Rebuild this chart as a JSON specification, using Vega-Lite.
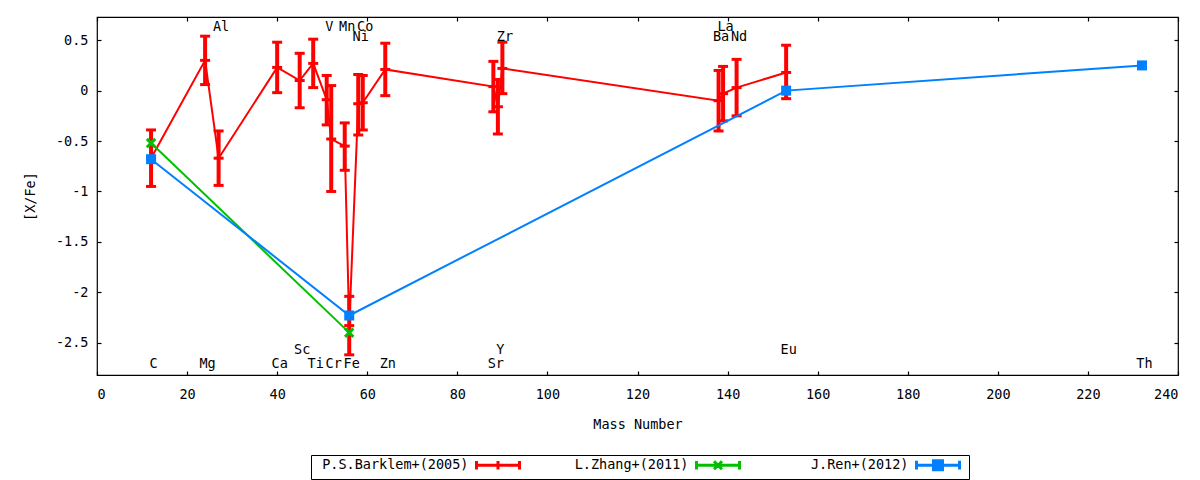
{
  "$schema": "https://vega.github.io/schema/vega-lite/v6.json",
  "width": 1081,
  "height": 358,
  "autosize": "none",
  "padding": {"left": 97, "top": 17, "right": 22, "bottom": 105},
  "config": {
    "font": "DejaVu Sans Mono",
    "view": {"stroke": "black", "strokeWidth": 1.2},
    "axis": {
      "labelFont": "DejaVu Sans Mono", "labelFontSize": 13.5, "labelColor": "black",
      "titleFont": "DejaVu Sans Mono", "titleFontSize": 13.5, "titleFontWeight": "normal", "titleColor": "black",
      "tickColor": "black", "tickWidth": 1.2, "grid": false, "domain": false
    }
  },
  "datasets": {
    "pts": [
      {"series": "P.S.Barklem+(2005)", "el": "C", "mass": 12, "value": -0.67, "lo": -0.95, "hi": -0.39},
      {"series": "P.S.Barklem+(2005)", "el": "Mg", "mass": 24, "value": 0.30, "lo": 0.06, "hi": 0.54},
      {"series": "P.S.Barklem+(2005)", "el": "Al", "mass": 27, "value": -0.67, "lo": -0.94, "hi": -0.40},
      {"series": "P.S.Barklem+(2005)", "el": "Ca", "mass": 40, "value": 0.23, "lo": -0.02, "hi": 0.48},
      {"series": "P.S.Barklem+(2005)", "el": "Sc", "mass": 45, "value": 0.10, "lo": -0.17, "hi": 0.37},
      {"series": "P.S.Barklem+(2005)", "el": "Ti", "mass": 48, "value": 0.27, "lo": 0.03, "hi": 0.51},
      {"series": "P.S.Barklem+(2005)", "el": "V", "mass": 51, "value": -0.09, "lo": -0.34, "hi": 0.15},
      {"series": "P.S.Barklem+(2005)", "el": "Cr", "mass": 52, "value": -0.48, "lo": -1.00, "hi": 0.05},
      {"series": "P.S.Barklem+(2005)", "el": "Mn", "mass": 55, "value": -0.55, "lo": -0.79, "hi": -0.32},
      {"series": "P.S.Barklem+(2005)", "el": "Fe", "mass": 56, "value": -2.33, "lo": -2.62, "hi": -2.04},
      {"series": "P.S.Barklem+(2005)", "el": "Ni", "mass": 58, "value": -0.13, "lo": -0.44, "hi": 0.16},
      {"series": "P.S.Barklem+(2005)", "el": "Co", "mass": 59, "value": -0.12, "lo": -0.39, "hi": 0.15},
      {"series": "P.S.Barklem+(2005)", "el": "Zn", "mass": 64, "value": 0.21, "lo": -0.05, "hi": 0.47},
      {"series": "P.S.Barklem+(2005)", "el": "Sr", "mass": 88, "value": 0.04, "lo": -0.21, "hi": 0.29},
      {"series": "P.S.Barklem+(2005)", "el": "Y", "mass": 89, "value": -0.16, "lo": -0.43, "hi": 0.11},
      {"series": "P.S.Barklem+(2005)", "el": "Zr", "mass": 90, "value": 0.22, "lo": -0.03, "hi": 0.48},
      {"series": "P.S.Barklem+(2005)", "el": "Ba", "mass": 138, "value": -0.10, "lo": -0.40, "hi": 0.20},
      {"series": "P.S.Barklem+(2005)", "el": "La", "mass": 139, "value": -0.03, "lo": -0.30, "hi": 0.24},
      {"series": "P.S.Barklem+(2005)", "el": "Nd", "mass": 142, "value": 0.03, "lo": -0.25, "hi": 0.31},
      {"series": "P.S.Barklem+(2005)", "el": "Eu", "mass": 153, "value": 0.18, "lo": -0.08, "hi": 0.45},
      {"series": "L.Zhang+(2011)", "el": "C", "mass": 12, "value": -0.52},
      {"series": "L.Zhang+(2011)", "el": "Fe", "mass": 56, "value": -2.40},
      {"series": "J.Ren+(2012)", "el": "C", "mass": 12, "value": -0.68},
      {"series": "J.Ren+(2012)", "el": "Fe", "mass": 56, "value": -2.23},
      {"series": "J.Ren+(2012)", "el": "Eu", "mass": 153, "value": 0.00},
      {"series": "J.Ren+(2012)", "el": "Th", "mass": 232, "value": 0.25}
    ],
    "labels": [
      {"el": "C", "mass": 12, "ypos": -2.71},
      {"el": "Mg", "mass": 24, "ypos": -2.71},
      {"el": "Al", "mass": 27, "ypos": 0.63},
      {"el": "Ca", "mass": 40, "ypos": -2.71},
      {"el": "Sc", "mass": 45, "ypos": -2.57},
      {"el": "Ti", "mass": 48, "ypos": -2.71},
      {"el": "V", "mass": 51, "ypos": 0.63},
      {"el": "Cr", "mass": 52, "ypos": -2.71},
      {"el": "Mn", "mass": 55, "ypos": 0.63},
      {"el": "Fe", "mass": 56, "ypos": -2.71},
      {"el": "Ni", "mass": 58, "ypos": 0.53},
      {"el": "Co", "mass": 59, "ypos": 0.63},
      {"el": "Zn", "mass": 64, "ypos": -2.71},
      {"el": "Sr", "mass": 88, "ypos": -2.71},
      {"el": "Y", "mass": 89, "ypos": -2.57},
      {"el": "Zr", "mass": 90, "ypos": 0.53},
      {"el": "Ba", "mass": 138, "ypos": 0.53},
      {"el": "La", "mass": 139, "ypos": 0.63},
      {"el": "Nd", "mass": 142, "ypos": 0.53},
      {"el": "Eu", "mass": 153, "ypos": -2.57},
      {"el": "Th", "mass": 232, "ypos": -2.71}
    ]
  },
  "resolve": {"axis": {"x": "independent", "y": "independent"}},
  "layer": [
    {
      "data": {"name": "pts"},
      "transform": [{"filter": "datum.series === 'P.S.Barklem+(2005)'"}],
      "mark": {"type": "line", "strokeWidth": 2},
      "encoding": {
        "x": {"field": "mass", "type": "quantitative", "scale": {"domain": [0, 240], "nice": false},
          "axis": {"orient": "bottom", "title": "Mass Number", "values": [0, 20, 40, 60, 80, 100, 120, 140, 160, 180, 200, 220, 240], "tickSize": -4, "labelPadding": 16, "titlePadding": 17}},
        "y": {"field": "value", "type": "quantitative", "scale": {"domain": [-2.82, 0.73], "nice": false},
          "axis": {"orient": "left", "title": "[X/Fe]", "values": [-2.5, -2, -1.5, -1, -0.5, 0, 0.5], "labelExpr": "'' + datum.value", "tickSize": -4, "labelPadding": 13, "titlePadding": 18}},
        "color": {"field": "series", "type": "nominal",
          "scale": {"domain": ["P.S.Barklem+(2005)", "L.Zhang+(2011)", "J.Ren+(2012)"], "range": ["#ff0000", "#00c000", "#0080ff"]},
          "legend": {
            "title": null, "orient": "none", "legendX": 214, "legendY": 438, "direction": "horizontal", "columns": 3,
            "columnPadding": 8, "padding": 3, "strokeColor": "black", "fillColor": "white",
            "labelFont": "DejaVu Sans Mono", "labelFontSize": 13.5, "labelColor": "black", "labelLimit": 400,
            "symbolSize": 100, "symbolStrokeWidth": 3,
            "symbolType": "M-4.3,0L4.3,0M-4.3,-0.86L-4.3,0.86M4.3,-0.86L4.3,0.86M0,-0.86L0,0.86",
            "encode": {
              "labels": {"update": {
                "x": {"value": 154.5},
                "align": {"value": "right"}
              }},
              "symbols": {"update": {
                "x": {"value": 184},
                "shape": {"signal": "datum.value === 'L.Zhang+(2011)' ? 'M-4.3,0L4.3,0M-4.3,-0.86L-4.3,0.86M4.3,-0.86L4.3,0.86M-0.8,-0.8L0.8,0.8M-0.8,0.8L0.8,-0.8' : datum.value === 'J.Ren+(2012)' ? 'M-4.3,0L4.3,0M-4.3,-0.86L-4.3,0.86M4.3,-0.86L4.3,0.86M-0.9,-0.9L0.9,-0.9L0.9,0.9L-0.9,0.9Z' : 'M-4.3,0L4.3,0M-4.3,-0.86L-4.3,0.86M4.3,-0.86L4.3,0.86M0,-0.86L0,0.86'"},
                "fill": {"signal": "datum.value === 'J.Ren+(2012)' ? '#0080ff' : 'transparent'"}
              }}
            }
          }}
      }
    },
    {
      "data": {"name": "pts"},
      "transform": [{"filter": "datum.series === 'P.S.Barklem+(2005)'"}],
      "mark": {"type": "rule", "color": "#ff0000", "strokeWidth": 4},
      "encoding": {
        "x": {"field": "mass", "type": "quantitative", "scale": {"domain": [0, 240], "nice": false}, "axis": null},
        "y": {"field": "lo", "type": "quantitative", "scale": {"domain": [-2.82, 0.73], "nice": false}, "axis": null},
        "y2": {"field": "hi"}
      }
    },
    {
      "data": {"name": "pts"},
      "transform": [
        {"filter": "datum.series === 'P.S.Barklem+(2005)'"},
        {"fold": ["lo", "hi", "value"], "as": ["k", "capv"]}
      ],
      "mark": {"type": "tick", "orient": "horizontal", "color": "#ff0000", "size": 10, "thickness": 3, "opacity": 1},
      "encoding": {
        "x": {"field": "mass", "type": "quantitative", "scale": {"domain": [0, 240], "nice": false}, "axis": null},
        "y": {"field": "capv", "type": "quantitative", "scale": {"domain": [-2.82, 0.73], "nice": false}, "axis": null}
      }
    },
    {
      "data": {"name": "pts"},
      "transform": [{"filter": "datum.series === 'L.Zhang+(2011)'"}],
      "mark": {"type": "line", "strokeWidth": 2},
      "encoding": {
        "x": {"field": "mass", "type": "quantitative", "scale": {"domain": [0, 240], "nice": false}, "axis": null},
        "y": {"field": "value", "type": "quantitative", "scale": {"domain": [-2.82, 0.73], "nice": false}, "axis": null},
        "color": {"field": "series", "type": "nominal"}
      }
    },
    {
      "data": {"name": "pts"},
      "transform": [{"filter": "datum.series === 'L.Zhang+(2011)'"}],
      "mark": {"type": "point", "shape": "M-1,-1L1,1M-1,1L1,-1", "filled": false, "stroke": "#00c000", "strokeWidth": 3, "size": 70, "opacity": 1},
      "encoding": {
        "x": {"field": "mass", "type": "quantitative", "scale": {"domain": [0, 240], "nice": false}, "axis": null},
        "y": {"field": "value", "type": "quantitative", "scale": {"domain": [-2.82, 0.73], "nice": false}, "axis": null}
      }
    },
    {
      "data": {"name": "pts"},
      "transform": [{"filter": "datum.series === 'J.Ren+(2012)'"}],
      "mark": {"type": "line", "strokeWidth": 2},
      "encoding": {
        "x": {"field": "mass", "type": "quantitative", "scale": {"domain": [0, 240], "nice": false},
          "axis": {"orient": "top", "labels": false, "title": null, "values": [0, 20, 40, 60, 80, 100, 120, 140, 160, 180, 200, 220, 240], "tickSize": -4}},
        "y": {"field": "value", "type": "quantitative", "scale": {"domain": [-2.82, 0.73], "nice": false},
          "axis": {"orient": "right", "labels": false, "title": null, "values": [-2.5, -2, -1.5, -1, -0.5, 0, 0.5], "tickSize": -4}},
        "color": {"field": "series", "type": "nominal"}
      }
    },
    {
      "data": {"name": "pts"},
      "transform": [{"filter": "datum.series === 'J.Ren+(2012)'"}],
      "mark": {"type": "point", "shape": "square", "filled": true, "color": "#0080ff", "size": 100, "opacity": 1},
      "encoding": {
        "x": {"field": "mass", "type": "quantitative", "scale": {"domain": [0, 240], "nice": false}, "axis": null},
        "y": {"field": "value", "type": "quantitative", "scale": {"domain": [-2.82, 0.73], "nice": false}, "axis": null}
      }
    },
    {
      "data": {"name": "labels"},
      "mark": {"type": "text", "fontSize": 13.5, "color": "black", "align": "center", "baseline": "middle", "dx": 2.5},
      "encoding": {
        "x": {"field": "mass", "type": "quantitative", "scale": {"domain": [0, 240], "nice": false}, "axis": null},
        "y": {"field": "ypos", "type": "quantitative", "scale": {"domain": [-2.82, 0.73], "nice": false}, "axis": null},
        "text": {"field": "el"}
      }
    }
  ]
}
